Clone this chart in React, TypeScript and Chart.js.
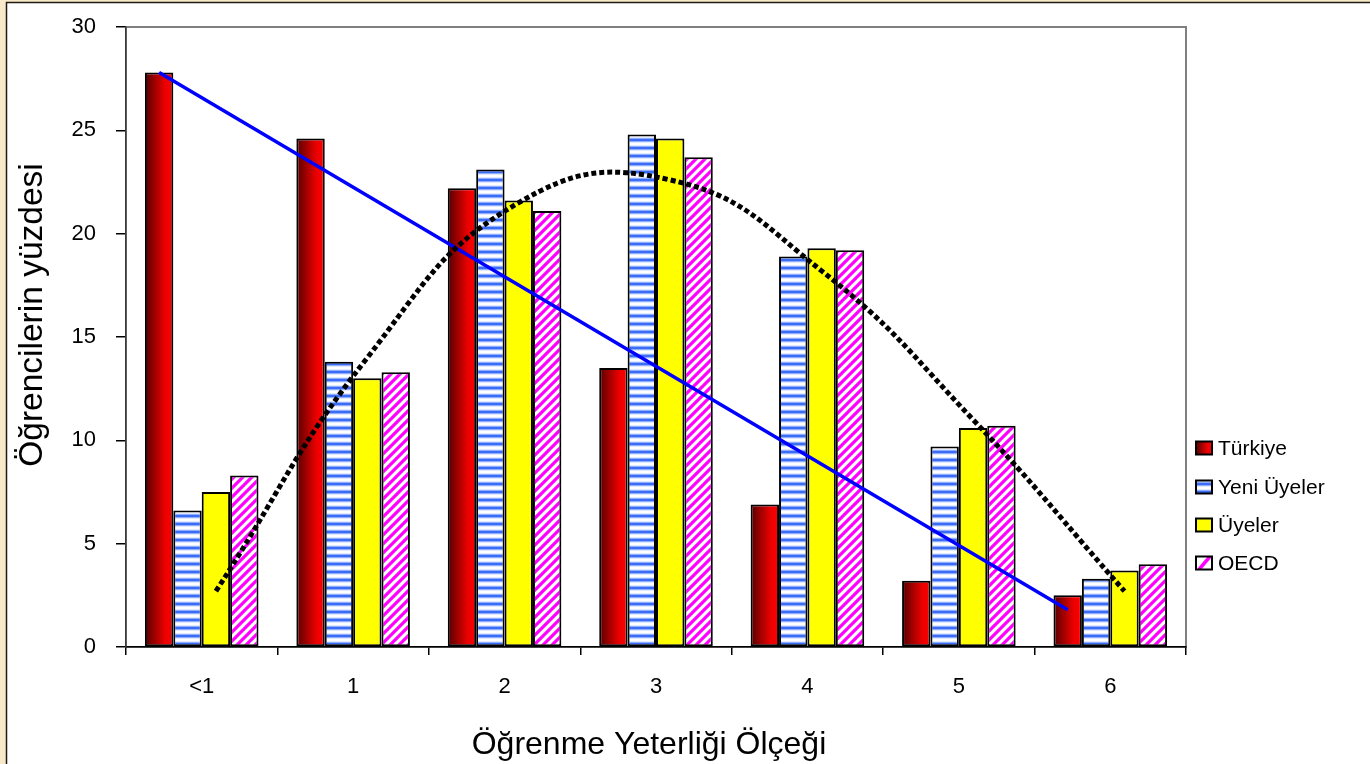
import React, { useEffect, useRef } from "react";
import { Chart, registerables } from "chart.js";

Chart.register(...registerables);

const categories = ["<1", "1", "2", "3", "4", "5", "6"];
const seriesNames = ["Türkiye", "Yeni Üyeler", "Üyeler", "OECD"];
const turkiye = [27.8, 24.6, 22.2, 13.5, 6.9, 3.2, 2.5];
const yeniUyeler = [6.6, 13.8, 23.1, 24.8, 18.9, 9.7, 3.3];
const uyeler = [7.5, 13.0, 21.6, 24.6, 19.3, 10.6, 3.7];
const oecd = [8.3, 13.3, 21.1, 23.7, 19.2, 10.7, 4.0];
// Linear trend of Türkiye (values at the first and last category)
const turkiyeTrend = [27.8, 1.8];
// Polynomial trend curve read at each Üyeler bar
const uyelerCurve = [2.7, 14.0, 21.5, 22.6, 18.2, 11.0, 2.7];
const yTicks = [0, 5, 10, 15, 20, 25, 30];
const xTitle = "Öğrenme Yeterliği Ölçeği";
const yTitle = "Öğrencilerin yüzdesi";

const FONT = "'Liberation Sans', Arial, sans-serif";
const CAT_PCT = 0.75;
const NBARS = 4;
const barOffset = (seriesIdx: number) => (seriesIdx - (NBARS - 1) / 2) * (CAT_PCT / NBARS);
const toPoints = (arr: number[]) => arr.map((v, i) => ({ x: i, y: v }));

function makeStripePattern(ctx: CanvasRenderingContext2D) {
  const c = document.createElement("canvas");
  c.width = 4;
  c.height = 8;
  const g = c.getContext("2d")!;
  const rows = ["#ffffff", "#e2e9ff", "#8eadff", "#3a6cf5", "#3a6cf5", "#8eadff", "#e2e9ff", "#ffffff"];
  rows.forEach((col, i) => {
    g.fillStyle = col;
    g.fillRect(0, i, 4, 1);
  });
  return ctx.createPattern(c, "repeat")!;
}

function makeDiagPattern(ctx: CanvasRenderingContext2D) {
  const s = 9;
  const c = document.createElement("canvas");
  c.width = s;
  c.height = s;
  const g = c.getContext("2d")!;
  g.fillStyle = "#ffffff";
  g.fillRect(0, 0, s, s);
  g.strokeStyle = "#ff00ff";
  g.lineWidth = 3.2;
  g.beginPath();
  g.moveTo(-s, s * 2);
  g.lineTo(s * 2, -s);
  g.moveTo(-s, s);
  g.lineTo(s, -s);
  g.moveTo(0, s * 2);
  g.lineTo(s * 2, 0);
  g.stroke();
  return ctx.createPattern(c, "repeat")!;
}

function redGradient(ctx: CanvasRenderingContext2D, x0: number, x1: number) {
  const g = ctx.createLinearGradient(x0, 0, x1, 0);
  g.addColorStop(0, "#560000");
  g.addColorStop(0.7, "#ea0000");
  g.addColorStop(1, "#ff0000");
  return g;
}

export default function App() {
  const ref = useRef<HTMLCanvasElement | null>(null);

  useEffect(() => {
    const canvas = ref.current!;
    const ctx2d = canvas.getContext("2d")!;
    const stripes = makeStripePattern(ctx2d);
    const diag = makeDiagPattern(ctx2d);

    const turkiyeFill = (c: any) => {
      const chart = c.chart;
      const xs = chart.scales?.x;
      if (!xs || !chart.chartArea || c.type !== "data") return "#c00000";
      const cw = xs.width / categories.length;
      const bw = cw * CAT_PCT / NBARS;
      const cx = xs.getPixelForValue(c.dataIndex) + (c.datasetIndex - (NBARS - 1) / 2) * bw;
      return redGradient(chart.ctx, cx - bw / 2, cx + bw / 2);
    };

    const legendFills = [null, stripes, "#ffff00", null];

    const decor = {
      id: "decor",
      beforeDraw(chart: any) {
        const { ctx, width, height, chartArea: a } = chart;
        ctx.save();
        ctx.fillStyle = "#f7e9c9";
        ctx.fillRect(0, 0, width, height);
        ctx.fillStyle = "#ffffff";
        ctx.fillRect(7, 3, width - 7, height - 3);
        ctx.strokeStyle = "#1e1a14";
        ctx.lineWidth = 1.5;
        ctx.beginPath();
        ctx.moveTo(6.5, height);
        ctx.lineTo(6.5, 2.5);
        ctx.lineTo(width, 2.5);
        ctx.stroke();
        ctx.strokeStyle = "#808080";
        ctx.lineWidth = 2;
        ctx.strokeRect(a.left, a.top, a.right - a.left, a.bottom - a.top);
        ctx.restore();
      },
      afterDraw(chart: any) {
        const { ctx } = chart;
        ctx.save();
        ctx.fillStyle = "#000";
        ctx.textAlign = "center";
        ctx.textBaseline = "middle";
        ctx.font = `32px ${FONT}`;
        ctx.fillText(xTitle, 649, 745);
        ctx.save();
        ctx.font = `33.5px ${FONT}`;
        ctx.translate(33, 315);
        ctx.rotate(-Math.PI / 2);
        ctx.fillText(yTitle, 0, 0);
        ctx.restore();

        // legend
        const rowY = [448, 487, 525, 563];
        ctx.font = `21px ${FONT}`;
        ctx.textAlign = "left";
        seriesNames.forEach((name, i) => {
          const y = rowY[i];
          const bx = 1196, by = y - 6.5, bwid = 16, bh = 13;
          if (i === 0) ctx.fillStyle = redGradient(ctx, bx, bx + bwid);
          else if (i === 3) ctx.fillStyle = "#ffffff";
          else ctx.fillStyle = legendFills[i];
          ctx.fillRect(bx, by, bwid, bh);
          if (i === 3) {
            ctx.save();
            ctx.beginPath();
            ctx.rect(bx, by, bwid, bh);
            ctx.clip();
            ctx.strokeStyle = "#ff00ff";
            ctx.lineWidth = 3.5;
            ctx.beginPath();
            ctx.moveTo(bx + 3, by + bh);
            ctx.lineTo(bx + bwid - 2, by);
            ctx.stroke();
            ctx.restore();
          }
          ctx.strokeStyle = "#000";
          ctx.lineWidth = 2;
          ctx.strokeRect(bx, by, bwid, bh);
          ctx.fillStyle = "#000";
          ctx.fillText(name, 1218, y + 1);
        });
        ctx.restore();
      },
    };

    const barCommon = {
      type: "bar" as const,
      borderColor: "#000000",
      borderWidth: 2,
      borderSkipped: false,
      categoryPercentage: CAT_PCT,
      barPercentage: 1,
      order: 2,
    };

    const chart = new Chart(canvas, {
      type: "bar",
      data: {
        datasets: [
          { ...barCommon, label: seriesNames[0], data: toPoints(turkiye), backgroundColor: turkiyeFill },
          { ...barCommon, label: seriesNames[1], data: toPoints(yeniUyeler), backgroundColor: stripes },
          { ...barCommon, label: seriesNames[2], data: toPoints(uyeler), backgroundColor: "#ffff00" },
          { ...barCommon, label: seriesNames[3], data: toPoints(oecd), backgroundColor: diag },
          {
            type: "line",
            label: "Türkiye trend",
            data: [
              { x: 0 + barOffset(0), y: turkiyeTrend[0] },
              { x: categories.length - 1 + barOffset(0), y: turkiyeTrend[1] },
            ],
            borderColor: "#0000ff",
            borderWidth: 3.5,
            pointRadius: 0,
            fill: false,
            order: 1,
          },
          {
            type: "line",
            label: "Üyeler trend",
            data: uyelerCurve.map((v, i) => ({ x: i + barOffset(2), y: v })),
            borderColor: "#000000",
            borderWidth: 5,
            borderDash: [5, 3],
            borderCapStyle: "butt",
            tension: 0.45,
            pointRadius: 0,
            fill: false,
            order: 0,
          },
        ] as any,
      },
      options: {
        animation: false,
        responsive: false,
        devicePixelRatio: 1,
        events: [],
        layout: { padding: { left: 0, top: 27, right: 184, bottom: 0 } },
        plugins: { legend: { display: false }, tooltip: { enabled: false } },
        scales: {
          x: {
            type: "linear",
            offset: false,
            min: -0.5,
            max: categories.length - 0.5,
            afterBuildTicks: (s: any) => { s.ticks = categories.map((_, i) => ({ value: i })); },
            grid: { display: true, drawOnChartArea: false, offset: true, color: "#000", tickLength: 8, lineWidth: 1.5 },
            border: { color: "#000", width: 1.5 },
            ticks: {
              color: "#000",
              font: { family: FONT, size: 22 },
              padding: 19,
              maxRotation: 0,
              autoSkip: false,
              callback: (v: any) => categories[Math.round(Number(v))] ?? "",
            },
            afterFit: (s: any) => { s.height = 117; s.paddingLeft = 0; s.paddingRight = 0; },
          },
          y: {
            min: yTicks[0],
            max: yTicks[yTicks.length - 1],
            afterBuildTicks: (s: any) => { s.ticks = yTicks.map((v) => ({ value: v })); },
            grid: { drawOnChartArea: false, color: "#000", tickLength: 10, lineWidth: 1.5 },
            border: { color: "#3a3a3a", width: 1.5 },
            ticks: { color: "#000", font: { family: FONT, size: 22 }, padding: 20 },
            afterFit: (s: any) => { s.width = 126; s.paddingTop = 0; s.paddingBottom = 0; },
          },
        },
      } as any,
      plugins: [decor],
    });
    return () => chart.destroy();
  }, []);

  return (
    <div style={{ position: "fixed", left: 0, top: 0, width: 1370, height: 764 }}>
      <canvas ref={ref} width={1370} height={764} style={{ width: 1370, height: 764, display: "block" }} />
    </div>
  );
}
